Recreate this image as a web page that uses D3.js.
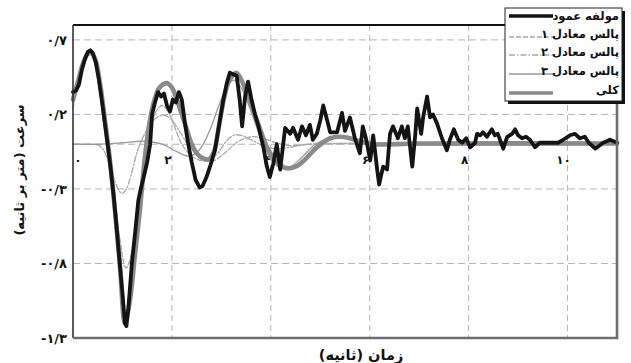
<!DOCTYPE html>
<html>
<head>
<meta charset="utf-8">
<script src="https://cdn.jsdelivr.net/npm/d3@7"></script>
<style>
  html, body { margin: 0; padding: 0; background: #fff; }
  svg { display: block; }
  text { font-family: "DejaVu Sans", sans-serif; fill: #111; }
</style>
</head>
<body>
<svg id="chart" width="631" height="363"></svg>
<script>
// Ground velocity record (t in s, v in m/s)
const record = [
  [0,0.35],[0.06,0.36],[0.12,0.4],[0.18,0.5],[0.24,0.57],[0.3,0.62],[0.35,0.63],[0.4,0.61],
  [0.46,0.55],[0.52,0.44],[0.58,0.3],[0.64,0.15],[0.7,0.0],[0.76,-0.16],[0.82,-0.34],[0.88,-0.55],
  [0.94,-0.78],[1.0,-1.0],[1.05,-1.2],[1.08,-1.22],[1.12,-1.1],[1.19,-0.8],[1.26,-0.58],[1.32,-0.38],
  [1.37,-0.3],[1.43,-0.22],[1.5,-0.12],[1.56,0.0],[1.6,0.2],[1.65,0.27],[1.72,0.35],[1.78,0.32],
  [1.84,0.34],[1.9,0.26],[1.96,0.22],[2.02,0.3],[2.08,0.28],[2.14,0.35],[2.2,0.3],[2.26,0.15],
  [2.32,0.02],[2.4,-0.12],[2.48,-0.24],[2.56,-0.29],[2.62,-0.28],[2.7,-0.22],[2.78,-0.14],[2.87,-0.04],
  [2.97,0.16],[3.04,0.3],[3.11,0.41],[3.17,0.48],[3.24,0.47],[3.31,0.46],[3.37,0.3],[3.42,0.12],
  [3.48,0.32],[3.54,0.42],[3.61,0.3],[3.68,0.2],[3.75,0.12],[3.85,-0.02],[3.92,-0.15],[3.98,-0.22],
  [4.05,-0.13],[4.12,0.0],[4.19,-0.17],[4.29,0.11],[4.39,0.07],[4.45,0.11],[4.55,0.03],[4.63,0.12],
  [4.71,0.06],[4.79,0.13],[4.85,0.03],[4.93,0.07],[5.0,0.16],[5.06,0.26],[5.14,0.16],[5.2,0.08],
  [5.34,0.08],[5.44,0.21],[5.5,0.09],[5.6,0.18],[5.7,0.04],[5.8,-0.06],[5.86,0.12],[5.93,0.03],
  [6.01,-0.11],[6.07,0.06],[6.15,-0.17],[6.19,-0.27],[6.27,-0.15],[6.35,-0.17],[6.41,0.07],[6.47,0.12],
  [6.57,0.04],[6.65,0.12],[6.71,0.04],[6.77,0.12],[6.86,-0.15],[6.92,0.06],[6.96,0.24],[7.04,0.07],
  [7.08,0.18],[7.16,0.32],[7.22,0.18],[7.28,0.2],[7.36,0.14],[7.46,0.04],[7.56,-0.04],[7.62,0.03],
  [7.7,0.1],[7.79,0.03],[7.87,0.01],[7.95,0.04],[8.03,-0.02],[8.13,0.01],[8.17,0.07],[8.23,0.06],
  [8.29,0.08],[8.37,0.05],[8.47,0.1],[8.53,0.06],[8.59,0.07],[8.7,-0.03],[8.78,0.05],[8.88,0.07],
  [8.94,0.1],[9.0,0.06],[9.08,0.04],[9.16,0.05],[9.24,0.03],[9.34,-0.02],[9.44,0.01],[9.59,0.01],
  [9.71,0.01],[9.81,0.01],[9.91,0.03],[10.05,0.06],[10.15,0.07],[10.25,0.04],[10.35,0.05],[10.43,0.01],
  [10.56,-0.03],[10.64,-0.01],[10.72,0.01],[10.86,0.03],[11.0,0.01]
];

// Equivalent pulse 1
const pulse1 = [
  [0,0.24],[0.1,0.4],[0.2,0.52],[0.3,0.59],[0.38,0.6],[0.45,0.57],[0.55,0.43],[0.65,0.2],
  [0.75,-0.08],[0.85,-0.38],[0.95,-0.64],[1.07,-0.83],[1.18,-0.74],[1.3,-0.48],[1.42,-0.18],[1.55,0.08],
  [1.68,0.22],[1.8,0.26],[1.92,0.22],[2.05,0.12],[2.2,0.0],[2.4,-0.08],[2.6,-0.11],[2.85,-0.11],
  [3.1,-0.05],[3.35,0.02],[3.6,0.05],[3.85,0.04],[4.1,0.01],[4.4,-0.01],[4.8,0.0],[11,0.0]
];

// Equivalent pulse 2
const pulse2 = [
  [0,0.0],[0.3,0.0],[0.5,-0.005],[0.6,-0.03],[0.7,-0.1],[0.8,-0.2],[0.9,-0.29],
  [0.99,-0.33],[1.08,-0.3],[1.18,-0.2],[1.3,-0.05],[1.45,0.07],[1.6,0.15],[1.75,0.19],[1.88,0.19],
  [2.0,0.16],[2.15,0.09],[2.3,0.01],[2.45,-0.05],[2.6,-0.09],[2.77,-0.1],[2.95,-0.05],[3.1,0.02],
  [3.25,0.06],[3.4,0.06],[3.6,0.03],[3.85,-0.01],[4.1,-0.03],[4.4,-0.02],[4.8,0.0],[11,0.0]
];

// Equivalent pulse 3
const pulse3 = [
  [0,0.0],[0.5,0.0],[1.0,0.01],[1.4,0.02],[1.8,0.0],[2.1,-0.05],[2.35,-0.08],[2.55,-0.04],
  [2.75,0.08],[2.95,0.26],[3.1,0.38],[3.25,0.43],[3.4,0.38],[3.6,0.22],[3.8,0.04],[4.0,-0.1],
  [4.2,-0.16],[4.4,-0.15],[4.65,-0.08],[4.9,0.0],[5.15,0.04],[5.4,0.05],[5.65,0.03],[5.9,0.01],
  [6.2,0.0],[11,0.0]
];

// Combined pulse
const total = [
  [0,0.3],[0.1,0.42],[0.2,0.54],[0.3,0.61],[0.36,0.62],[0.45,0.57],[0.55,0.4],[0.65,0.15],
  [0.75,-0.12],[0.85,-0.45],[0.95,-0.82],[1.05,-1.2],[1.15,-1.05],[1.25,-0.75],[1.35,-0.45],[1.45,-0.1],
  [1.55,0.15],[1.65,0.3],[1.75,0.38],[1.9,0.41],[2.0,0.38],[2.1,0.3],[2.2,0.2],[2.3,0.1],
  [2.4,0.0],[2.5,-0.06],[2.6,-0.09],[2.75,-0.1],[2.85,-0.05],[2.95,0.12],[3.05,0.3],[3.15,0.42],
  [3.3,0.48],[3.45,0.4],[3.6,0.27],[3.72,0.16],[3.85,0.04],[3.95,-0.04],[4.1,-0.11],[4.3,-0.16],
  [4.5,-0.15],[4.7,-0.1],[4.9,-0.03],[5.05,0.01],[5.2,0.04],[5.4,0.05],[5.6,0.04],[5.85,0.015],
  [6.1,0.0],[7,0.005],[11,0.005]
];

const yTicks = [0.7, 0.2, -0.3, -0.8, -1.3];
const yTickLabels = ["۰/۷", "۰/۲", "-۰/۳", "-۰/۸", "-۱/۳"];
const yGrid = [0.7, 0.2, 0, -0.3, -0.8];
const xTicks = [0, 2, 4, 6, 8, 10];
const xTickLabels = ["۰", "۲", "۴", "۶", "۸", "۱۰"];
const xGrid = [2, 4, 6, 8, 10];

const seriesNames = ["مولفه عمود", "پالس معادل ۱", "پالس معادل ۲", "پالس معادل ۳", "کلی"];
const xTitle = "زمان (ثانیه)";
const yTitle = "سرعت (متر بر ثانیه)";

const svg = d3.select("#chart");
const L = 73, T = 25, R = 617, B = 338;
const x = d3.scaleLinear().domain([0, 11]).range([L, R]);
const y = d3.scaleLinear().domain([-1.3, 0.8]).range([B, T]);

// dashed grid
const grid = svg.append("g");
grid.selectAll("line.h").data(yGrid).join("line")
  .attr("x1", L).attr("x2", R).attr("y1", d => y(d)).attr("y2", d => y(d))
  .attr("stroke", "#b4b4b4").attr("stroke-width", 1).attr("stroke-dasharray", "7,4");
grid.selectAll("line.v").data(xGrid).join("line")
  .attr("y1", T).attr("y2", B).attr("x1", d => x(d)).attr("x2", d => x(d))
  .attr("stroke", "#b4b4b4").attr("stroke-width", 1).attr("stroke-dasharray", "6,4");

// y tick labels
const yAxis = d3.axisLeft(y).tickValues(yTicks).tickSize(0).tickPadding(6)
  .tickFormat((d, i) => yTickLabels[i]);
const gy = svg.append("g").attr("transform", `translate(${L},0)`).call(yAxis);
gy.select(".domain").remove();
gy.selectAll("text").attr("font-size", 13).attr("font-weight", "bold")
  .attr("font-family", "DejaVu Sans").attr("fill", "#111").attr("direction", "ltr");

// x tick labels sit just under the zero line
svg.append("g").selectAll("text").data(xTicks).join("text")
  .attr("x", d => x(d) + (d === 0 ? 5 : -4)).attr("y", y(0) + 20)
  .attr("text-anchor", "middle").attr("font-size", 12).attr("font-weight", "bold")
  .attr("direction", "ltr")
  .text((d, i) => xTickLabels[i]);

// curves
const line = d3.line().x(d => x(d[0])).y(d => y(d[1]));
const smooth = d3.line().x(d => x(d[0])).y(d => y(d[1])).curve(d3.curveCatmullRom.alpha(0.5));

const styles = [
  { data: record, gen: line, stroke: "#141414", width: 3.8, dash: null },
  { data: pulse1, gen: smooth, stroke: "#a8a8a8", width: 1.3, dash: "5,2" },
  { data: pulse2, gen: smooth, stroke: "#a8a8a8", width: 1.3, dash: "6,2,1.5,2" },
  { data: pulse3, gen: smooth, stroke: "#9a9a9a", width: 1.3, dash: null },
  { data: total, gen: smooth, stroke: "#8a8a8a", width: 4.6, dash: null }
];

const plot = svg.append("g");
const drawOrder = [1, 2, 3, 4, 0];
drawOrder.forEach(i => {
  const s = styles[i];
  plot.append("path").datum(s.data)
    .attr("d", s.gen)
    .attr("fill", "none")
    .attr("stroke", s.stroke)
    .attr("stroke-width", s.width)
    .attr("stroke-linejoin", "round")
    .attr("stroke-linecap", "round")
    .attr("stroke-dasharray", s.dash);
});

// frame
svg.append("line").attr("x1", L).attr("x2", R).attr("y1", T).attr("y2", T)
  .attr("stroke", "#111").attr("stroke-width", 2);
svg.append("line").attr("x1", L).attr("x2", L).attr("y1", T).attr("y2", B)
  .attr("stroke", "#333").attr("stroke-width", 1.6);
svg.append("line").attr("x1", R).attr("x2", R).attr("y1", T).attr("y2", B + 1)
  .attr("stroke", "#6e6e6e").attr("stroke-width", 2.6);
svg.append("line").attr("x1", L).attr("x2", R + 1).attr("y1", B).attr("y2", B)
  .attr("stroke", "#6e6e6e").attr("stroke-width", 2.6);

// axis titles
svg.append("text").attr("x", 361).attr("y", 360).attr("text-anchor", "middle")
  .attr("direction", "rtl").attr("font-size", 14.5).attr("font-weight", "bold").text(xTitle);
svg.append("text").attr("transform", "translate(24,170) rotate(-90)")
  .attr("text-anchor", "middle").attr("direction", "rtl")
  .attr("font-size", 13).attr("font-weight", "bold").text(yTitle);

// legend
const lg = svg.append("g");
const lx = 505, ly = 8, lw = 117, lh = 93;
lg.append("rect").attr("x", lx + 3).attr("y", ly + 3).attr("width", lw).attr("height", lh).attr("fill", "#111");
lg.append("rect").attr("x", lx).attr("y", ly).attr("width", lw).attr("height", lh)
  .attr("fill", "#fff").attr("stroke", "#222").attr("stroke-width", 1);
const rowY = [16, 34, 52, 71, 90];
seriesNames.forEach((name, i) => {
  const s = styles[i];
  const ys = i === 0 ? rowY[i] : rowY[i] + 3;
  lg.append("line").attr("x1", lx + 4).attr("x2", lx + 48).attr("y1", ys).attr("y2", ys)
    .attr("stroke", s.stroke).attr("stroke-width", i === 0 ? 3.4 : (i === 4 ? 3.6 : 1.3))
    .attr("stroke-dasharray", s.dash);
  lg.append("text").attr("x", lx + lw - 3).attr("y", rowY[i] + 4)
    .attr("text-anchor", "start").attr("direction", "rtl")
    .attr("font-size", 11.5).attr("font-weight", "bold").text(name);
});
</script>
</body>
</html>
